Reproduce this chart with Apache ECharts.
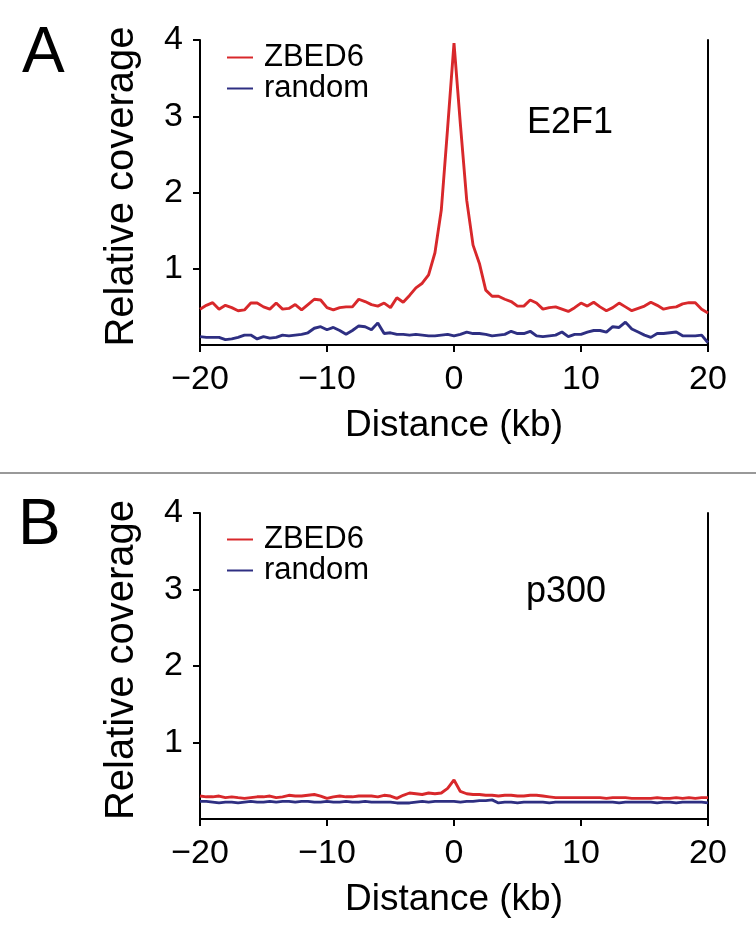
<!DOCTYPE html>
<html>
<head>
<meta charset="utf-8">
<script src="https://cdn.jsdelivr.net/npm/echarts@6/dist/echarts.min.js"></script>
<style>
html,body{margin:0;padding:0;background:#fff;}
#chart{width:756px;height:952px;}
</style>
</head>
<body>
<div id="chart"></div>
<script>
// Distance from peak center (kb)
const distance = [
  -20,-19.5,-19,-18.5,-18,-17.5,-17,-16.5,-16,-15.5,
  -15,-14.5,-14,-13.5,-13,-12.5,-12,-11.5,-11,-10.5,
  -10,-9.5,-9,-8.5,-8,-7.5,-7,-6.5,-6,-5.5,
  -5,-4.5,-4,-3.5,-3,-2.5,-2,-1.5,-1,-0.5,
  0,0.5,1,1.5,2,2.5,3,3.5,4,4.5,
  5,5.5,6,6.5,7,7.5,8,8.5,9,9.5,
  10,10.5,11,11.5,12,12.5,13,13.5,14,14.5,
  15,15.5,16,16.5,17,17.5,18,18.5,19,19.5,20
];
// Panel A: E2F1
const e2f1Zbed6 = [
  0.47,0.52,0.555,0.47,0.52,0.49,0.45,0.46,0.55,0.55,
  0.50,0.47,0.55,0.47,0.48,0.53,0.46,0.53,0.60,0.59,
  0.49,0.46,0.49,0.50,0.50,0.60,0.57,0.53,0.51,0.55,
  0.49,0.62,0.56,0.65,0.75,0.81,0.92,1.21,1.77,2.85,
  3.96,2.90,1.90,1.31,1.07,0.72,0.64,0.64,0.60,0.57,
  0.51,0.51,0.59,0.55,0.47,0.49,0.50,0.47,0.44,0.49,
  0.55,0.51,0.56,0.50,0.45,0.49,0.55,0.50,0.45,0.48,
  0.51,0.56,0.52,0.47,0.49,0.50,0.54,0.555,0.555,0.47,0.42
];
const e2f1Random = [
  0.11,0.10,0.10,0.10,0.07,0.08,0.10,0.13,0.13,0.08,
  0.11,0.09,0.10,0.13,0.12,0.13,0.14,0.16,0.22,0.24,
  0.20,0.23,0.19,0.14,0.19,0.25,0.24,0.20,0.29,0.15,
  0.16,0.14,0.14,0.13,0.14,0.13,0.12,0.12,0.13,0.14,
  0.12,0.14,0.17,0.15,0.15,0.14,0.12,0.13,0.14,0.18,
  0.15,0.15,0.18,0.12,0.11,0.12,0.13,0.17,0.11,0.14,
  0.14,0.17,0.19,0.19,0.17,0.24,0.23,0.30,0.21,0.17,
  0.13,0.10,0.15,0.15,0.16,0.17,0.12,0.12,0.12,0.13,0.03
];
// Panel B: p300
const p300Zbed6 = [
  0.30,0.29,0.29,0.30,0.28,0.29,0.28,0.27,0.28,0.29,
  0.29,0.30,0.28,0.29,0.31,0.30,0.30,0.31,0.32,0.30,
  0.27,0.29,0.30,0.29,0.29,0.30,0.30,0.30,0.29,0.31,
  0.30,0.27,0.31,0.34,0.33,0.32,0.34,0.33,0.34,0.40,
  0.51,0.36,0.33,0.32,0.32,0.31,0.31,0.30,0.31,0.31,
  0.30,0.30,0.31,0.31,0.30,0.29,0.28,0.28,0.28,0.28,
  0.28,0.28,0.28,0.28,0.27,0.28,0.28,0.28,0.27,0.27,
  0.27,0.27,0.28,0.27,0.27,0.28,0.27,0.28,0.27,0.28,0.28
];
const p300Random = [
  0.23,0.23,0.22,0.21,0.22,0.22,0.21,0.22,0.23,0.22,
  0.22,0.23,0.22,0.23,0.23,0.22,0.23,0.23,0.22,0.22,
  0.23,0.22,0.22,0.23,0.22,0.22,0.23,0.22,0.22,0.22,
  0.22,0.21,0.21,0.21,0.22,0.23,0.22,0.23,0.23,0.23,
  0.23,0.22,0.23,0.23,0.24,0.24,0.25,0.21,0.22,0.22,
  0.21,0.22,0.22,0.22,0.22,0.21,0.22,0.22,0.22,0.22,
  0.22,0.22,0.22,0.22,0.22,0.22,0.21,0.22,0.22,0.22,
  0.22,0.22,0.21,0.22,0.22,0.21,0.22,0.22,0.22,0.22,0.21
];
const yTicks = [1, 2, 3, 4];
const xTicks = [-20, -10, 0, 10, 20];
const seriesNames = ['ZBED6', 'random'];
const panelLabels = ['A', 'B'];
const factorLabels = ['E2F1', 'p300'];

const RED = '#d8282b';
const BLUE = '#2e2f82';
const FONT = '"Liberation Sans", Arial, Helvetica, sans-serif';

function pair(xs, ys) { return xs.map((x, i) => [x, ys[i]]); }

const grids = [
  {left: 200, top: 40, width: 508, height: 305},
  {left: 200, top: 513, width: 508, height: 306}
];

const xAxes = [0, 1].map(g => ({
  type: 'value', gridIndex: g, min: -20, max: 20, interval: 10,
  name: 'Distance (kb)', nameLocation: 'middle', nameGap: 62,
  nameTextStyle: {fontFamily: FONT, fontSize: 37, color: '#000'},
  axisLine: {show: true, onZero: false, lineStyle: {color: '#000', width: 2}},
  axisTick: {show: true, inside: false, length: 7, customValues: xTicks, lineStyle: {color: '#000', width: 2}},
  axisLabel: {
    fontFamily: FONT, fontSize: 34, color: '#000', margin: 18, customValues: xTicks,
    formatter: v => String(v).replace('-', '\u2212')
  },
  splitLine: {show: false}
}));

const yAxes = [];
[0, 1].forEach(g => {
  yAxes.push({
    type: 'value', gridIndex: g, min: 0, max: 4, interval: 1, position: 'left',
    name: 'Relative coverage', nameLocation: 'middle', nameGap: 58, nameRotate: 90,
    nameTextStyle: {fontFamily: FONT, fontSize: 40, color: '#000', padding: [0, 0, 0, 12]},
    axisLine: {show: true, onZero: false, lineStyle: {color: '#000', width: 2}},
    axisTick: {show: true, length: 7, customValues: yTicks, lineStyle: {color: '#000', width: 2}},
    axisLabel: {fontFamily: FONT, fontSize: 34, color: '#000', margin: 17, customValues: yTicks},
    splitLine: {show: false}
  });
  yAxes.push({
    type: 'value', gridIndex: g, min: 0, max: 4, interval: 1, position: 'right',
    axisLine: {show: true, onZero: false, lineStyle: {color: '#000', width: 2}},
    axisTick: {show: false}, axisLabel: {show: false}, splitLine: {show: false}
  });
});

function lineSeries(name, data, color, g) {
  return {
    name: name, type: 'line', xAxisIndex: g, yAxisIndex: g * 2,
    data: pair(distance, data), symbol: 'none', smooth: false,
    lineStyle: {color: color, width: 2.9}, itemStyle: {color: color},
    clip: false, animation: false
  };
}

const legendBase = {
  orient: 'vertical', left: 227, data: seriesNames, icon: 'rect',
  itemWidth: 26, itemHeight: 2, itemGap: 0, padding: 0,
  textStyle: {fontFamily: FONT, fontSize: 31, color: '#000', lineHeight: 28, padding: [0, 0, 0, 6]}
};

const option = {
  backgroundColor: '#fff',
  animation: false,
  grid: grids,
  xAxis: xAxes,
  yAxis: yAxes,
  legend: [
    Object.assign({}, legendBase, {top: 42}),
    Object.assign({}, legendBase, {top: 524})
  ],
  series: [
    lineSeries(seriesNames[0], e2f1Zbed6, RED, 0),
    lineSeries(seriesNames[1], e2f1Random, BLUE, 0),
    lineSeries(seriesNames[0], p300Zbed6, RED, 1),
    lineSeries(seriesNames[1], p300Random, BLUE, 1)
  ],
  graphic: [
    {type: 'text', left: 22, top: 22, style: {text: panelLabels[0], font: '64px ' + FONT, fill: '#000'}},
    {type: 'text', left: 18, top: 494, style: {text: panelLabels[1], font: '64px ' + FONT, fill: '#000'}},
    {type: 'text', left: 527, top: 105, style: {text: factorLabels[0], font: '36px ' + FONT, fill: '#000'}},
    {type: 'text', left: 526, top: 574, style: {text: factorLabels[1], font: '36px ' + FONT, fill: '#000'}},
    {type: 'line', shape: {x1: 0, y1: 473, x2: 756, y2: 473}, style: {stroke: '#999', lineWidth: 2}}
  ]
};

const chart = echarts.init(document.getElementById('chart'), null, {renderer: 'canvas'});
chart.setOption(option);
</script>
</body>
</html>
